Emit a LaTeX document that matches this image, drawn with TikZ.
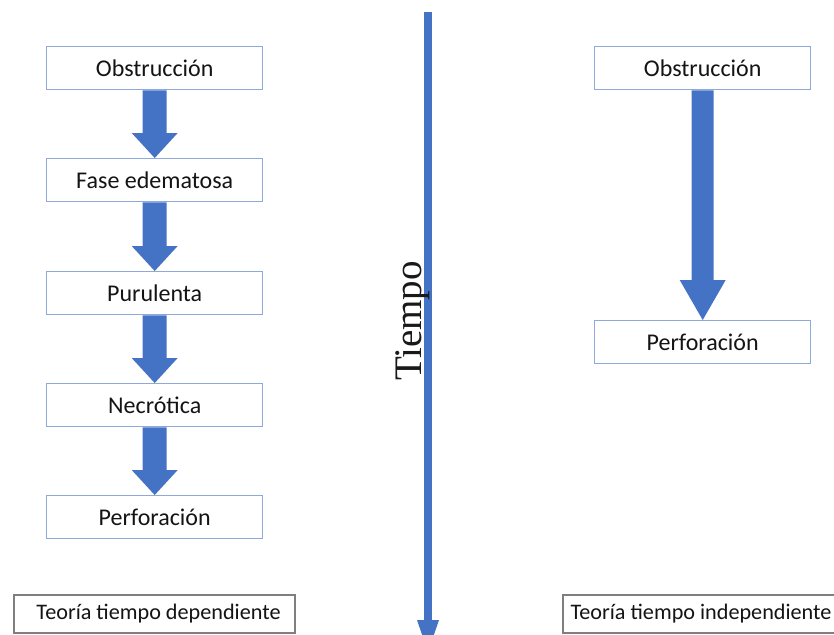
\documentclass[tikz,border=0pt]{standalone}
\usepackage{fontspec}
\setmainfont{Carlito}
\newfontfamily\timesfont{Liberation Serif}
\usetikzlibrary{calc}
\definecolor{arrowblue}{HTML}{4472C4}
\definecolor{boxblue}{HTML}{8EA9DB}
\definecolor{graybox}{HTML}{7F7F7F}
\tikzset{
  stagebox/.style={draw=boxblue, line width=1.4pt, fill=white, minimum width=216pt, minimum height=43pt, inner sep=0pt, anchor=north west, font=\fontsize{24}{28}\selectfont, text=black!92},
  theorybox/.style={draw=graybox, line width=2pt, fill=white, minimum height=38pt, inner sep=0pt, anchor=north west, font=\fontsize{22.2}{26}\selectfont, text=black!92},
  blockarrow/.style={fill=arrowblue, draw=none}
}
% #1 from node, #2 to node, #3 shaft half width, #4 head half width, #5 head length
\newcommand{\myblockarrow}[5]{%
  \fill[blockarrow] ($(#1.south)+(-#3,0)$) -- ($(#2.north)+(-#3,-#5)$) -- ($(#2.north)+(-#4,-#5)$) -- (#2.north) -- ($(#2.north)+(#4,-#5)$) -- ($(#2.north)+(#3,-#5)$) -- ($(#1.south)+(#3,0)$) -- cycle;}
\begin{document}
\begin{tikzpicture}[x=1pt,y=-1pt]
\useasboundingbox (0,0) rectangle (834,634);
\begin{scope}
\clip (0,0) rectangle (834,634);
% time axis
\coordinate (ttop) at (428,12);
\coordinate (tbot) at (428,652);
\fill[arrowblue] ($(ttop)+(-3.6,0)$) rectangle ($(tbot)+(3.6,-31)$);
\fill[arrowblue] ($(tbot)+(-11,-32)$) -- (tbot) -- ($(tbot)+(11,-32)$) -- cycle;
% theory boxes
\node[theorybox, minimum width=281pt] (dep) at (13,594) {\hspace*{8pt}Teoría tiempo dependiente};
\node[theorybox, minimum width=290pt] (indep) at (562,594) {\hspace*{-14pt}Teoría tiempo independiente};
\end{scope}
\node[rotate=90, anchor=base, font=\timesfont\fontsize{39}{44}\selectfont, text=black!90] (tiempo) at (421,321) {Tiempo};
% left column
\node[stagebox] (o1) at (46,46) {Obstrucción};
\node[stagebox] (f1) at (46,158) {Fase edematosa};
\node[stagebox] (p1) at (46,271) {Purulenta};
\node[stagebox] (n1) at (46,383) {Necrótica};
\node[stagebox] (r1) at (46,495) {Perforación};
\myblockarrow{o1}{f1}{12}{23}{25}
\myblockarrow{f1}{p1}{12}{23}{25}
\myblockarrow{p1}{n1}{12}{23}{25}
\myblockarrow{n1}{r1}{12}{23}{25}
% right column
\node[stagebox] (o2) at (594,46) {Obstrucción};
\node[stagebox] (r2) at (594,320) {Perforación};
\myblockarrow{o2}{r2}{11}{23}{40}
\end{tikzpicture}
\end{document}
